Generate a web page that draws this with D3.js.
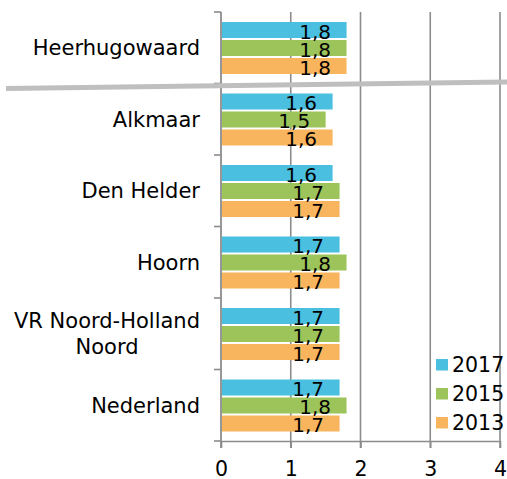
<!DOCTYPE html>
<html>
<head>
<meta charset="utf-8">
<script src="https://cdn.jsdelivr.net/npm/d3@7"></script>
<style>
  html, body { margin: 0; padding: 0; background: #fff; }
  svg { display: block; font-family: "DejaVu Sans", Verdana, sans-serif; }
</style>
</head>
<body>
<svg id="chart" width="507" height="479"></svg>
<script>
// Regions (top to bottom); the first is set apart by a divider
const categories = ["Heerhugowaard", "Alkmaar", "Den Helder", "Hoorn", "VR Noord-Holland Noord", "Nederland"];
const categoryLines = [["Heerhugowaard"], ["Alkmaar"], ["Den Helder"], ["Hoorn"], ["VR Noord-Holland", "Noord"], ["Nederland"]];
const years = ["2017", "2015", "2013"];
const values2017 = [1.8, 1.6, 1.6, 1.7, 1.7, 1.7];
const values2015 = [1.8, 1.5, 1.7, 1.8, 1.7, 1.8];
const values2013 = [1.8, 1.6, 1.7, 1.7, 1.7, 1.7];
const xTicks = [0, 1, 2, 3, 4];

const colors = { "2017": "#4bbfdf", "2015": "#9dc45a", "2013": "#f9b55d" };
const seriesValues = { "2017": values2017, "2015": values2015, "2013": values2013 };

const svg = d3.select("#chart");
const plotLeft = 221, plotRight = 500, plotTop = 12, plotBottom = 441;
const fontSize = 20.5;

const x = d3.scaleLinear().domain([0, 4]).range([plotLeft, plotRight]);
const y = d3.scaleBand().domain(categories).range([plotTop, plotBottom]).paddingInner(0).paddingOuter(0);
const inner = d3.scaleBand().domain(years).range([10, y.bandwidth() - 9.5]).paddingInner(0.11);

const fmt = v => d3.format(".1f")(v).replace(".", ",");

// Vertical gridlines
svg.append("g").selectAll("line")
  .data(xTicks.slice(1))
  .join("line")
  .attr("x1", d => x(d)).attr("x2", d => x(d))
  .attr("y1", plotTop).attr("y2", plotBottom + 7)
  .attr("stroke", "#8c8c8c").attr("stroke-width", 1.6);

// Bottom axis
const xAxis = svg.append("g").attr("transform", `translate(0,${plotBottom})`)
  .call(d3.axisBottom(x).tickValues(xTicks).tickSize(7).tickPadding(13).tickFormat(d3.format("d")));
xAxis.select(".domain").attr("stroke", "#8c8c8c").attr("stroke-width", 1.6).attr("d", `M${plotLeft},0.5H${plotRight}`);
xAxis.selectAll(".tick line").attr("stroke", "#8c8c8c").attr("stroke-width", 1.6);
xAxis.selectAll(".tick text").attr("font-size", fontSize).attr("fill", "#000")
  .attr("font-family", "DejaVu Sans, Verdana, sans-serif");

// Left axis with category boundary ticks
const boundaries = categories.map(c => y(c)).concat([plotBottom]);
svg.append("g").selectAll("line")
  .data(boundaries)
  .join("line")
  .attr("x1", plotLeft - 7).attr("x2", plotLeft)
  .attr("y1", d => d).attr("y2", d => d)
  .attr("stroke", "#8c8c8c").attr("stroke-width", 1.6);
svg.append("line")
  .attr("x1", plotLeft).attr("x2", plotLeft).attr("y1", plotTop).attr("y2", plotBottom + 7)
  .attr("stroke", "#8c8c8c").attr("stroke-width", 1.8);

// Bars
const groups = svg.append("g").selectAll("g")
  .data(categories)
  .join("g")
  .attr("transform", d => `translate(0,${y(d)})`);

years.forEach(yr => {
  groups.append("rect")
    .attr("x", plotLeft + 1)
    .attr("y", inner(yr))
    .attr("width", (d, i) => x(seriesValues[yr][i]) - plotLeft - 1)
    .attr("height", inner.bandwidth())
    .attr("fill", colors[yr]);
});

// Value labels
years.forEach(yr => {
  groups.append("text")
    .attr("x", (d, i) => x(seriesValues[yr][i]) - 15.5)
    .attr("y", inner(yr) + inner.bandwidth() + 0.5)
    .attr("text-anchor", "end")
    .attr("font-size", 20)
    .attr("fill", "#000")
    .text((d, i) => fmt(seriesValues[yr][i]));
});

// Category labels
const lineH = 25.3;
groups.each(function(d, i) {
  const lines = categoryLines[i];
  const g = d3.select(this);
  const cy = y.bandwidth() / 2;
  const t = g.append("text")
    .attr("font-size", 21).attr("fill", "#000")
    .attr("text-anchor", lines.length > 1 ? "middle" : "end");
  lines.forEach((l, j) => {
    t.append("tspan")
      .attr("x", lines.length > 1 ? 0 : 200)
      .attr("y", cy + (j - (lines.length - 1) / 2) * lineH)
      .attr("dy", "0.35em")
      .text(l);
  });
  if (lines.length > 1) {
    const w = t.node().getBBox().width;
    t.selectAll("tspan").attr("x", 200 - w / 2);
  }
});

// Divider below the first region
svg.append("line")
  .attr("x1", 6).attr("y1", 88.5)
  .attr("x2", 507).attr("y2", 82)
  .attr("stroke", "#bfbfbf").attr("stroke-width", 5);

// Legend
const legend = svg.append("g").selectAll("g")
  .data(years)
  .join("g")
  .attr("transform", (d, i) => `translate(436,${365 + i * 29})`);
legend.append("rect")
  .attr("x", 0).attr("y", -6).attr("width", 12).attr("height", 11.5)
  .attr("fill", d => colors[d]);
legend.append("text")
  .attr("x", 16).attr("y", 0).attr("dy", "0.35em")
  .attr("font-size", fontSize).attr("fill", "#000")
  .text(d => d);
</script>
</body>
</html>
